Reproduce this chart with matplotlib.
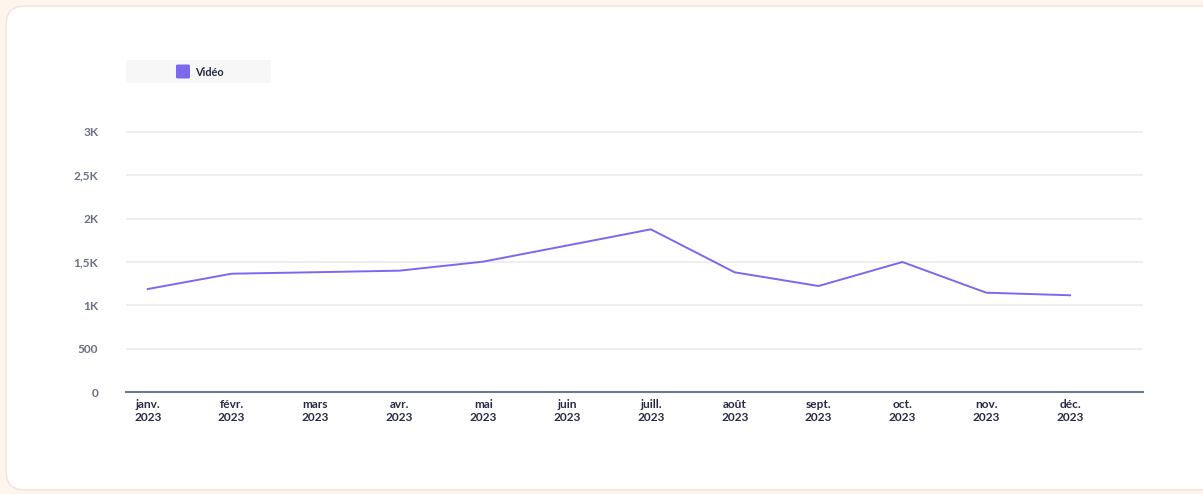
import matplotlib
matplotlib.use("Agg")
import matplotlib.pyplot as plt
from matplotlib.patches import FancyBboxPatch
from matplotlib.ticker import FuncFormatter

# data
months = ["janv.", "févr.", "mars", "avr.", "mai", "juin",
          "juill.", "août", "sept.", "oct.", "nov.", "déc."]
year = "2023"
video = [1188, 1365, 1382, 1400, 1504, 1690, 1877, 1381, 1223, 1500, 1146, 1116]
y_ticks = [0, 500, 1000, 1500, 2000, 2500, 3000]

W, H = 1203, 494
plt.rcParams["font.family"] = ["Lato", "DejaVu Sans"]

fig = plt.figure(figsize=(W / 100, H / 100), dpi=100)
fig.patch.set_facecolor("#fdf5ee")

# white card
card = FancyBboxPatch((6 / W, 4 / H), 1230 / W, 484 / H,
                      boxstyle="round,pad=0,rounding_size=0.016",
                      transform=fig.transFigure, facecolor="white",
                      edgecolor="#f6e1d3", linewidth=1.0,
                      mutation_aspect=W / H, zorder=-2)
fig.patches.append(card)

# legend chip
fig.patches.append(FancyBboxPatch((126 / W, 1 - 83 / H), 145 / W, 23 / H,
                                  boxstyle="round,pad=0,rounding_size=0.002",
                                  transform=fig.transFigure, facecolor="#f7f7f8",
                                  edgecolor="none", zorder=-1))
fig.patches.append(FancyBboxPatch((176 / W, 1 - 78.5 / H), 14 / W, 14 / H,
                                  boxstyle="round,pad=0,rounding_size=0.002",
                                  transform=fig.transFigure, facecolor="#7b68ee",
                                  edgecolor="none", zorder=1))
fig.text(195 / W, 1 - 72 / H, "Vidéo", fontsize=7.8, color="#22263f",
         va="center", ha="left", fontweight="bold")

top_val = 3050
ax = fig.add_axes([126 / W, 1 - 392 / H, (1143 - 126) / W,
                   (392 - (132 - 0.05 * 86.67)) / H])
ax.set_facecolor("none")
ax.set_zorder(2)

x = list(range(len(months)))
ax.plot(x, video, color="#7b68ee", linewidth=1.4, zorder=3)

ax.set_xlim(-0.26, 11.87)
ax.set_ylim(0, top_val)
ax.set_yticks(y_ticks)


def k_fmt(v, pos):
    if v == 0:
        return "0"
    if v < 1000:
        return f"{int(v)}"
    s = f"{v / 1000:g}".replace(".", ",")
    return s + "K"


ax.yaxis.set_major_formatter(FuncFormatter(k_fmt))
ax.grid(axis="y", color="#e9e9ee", linewidth=1.1)
ax.set_axisbelow(True)

ax.set_xticks(x)
ax.set_xticklabels([f"{m}\n{year}" for m in months], linespacing=1.25)

for side in ["top", "right", "left"]:
    ax.spines[side].set_visible(False)
ax.spines["bottom"].set_color("#6e7b8e")
ax.spines["bottom"].set_linewidth(1.5)

ax.tick_params(axis="y", length=0, pad=20, labelsize=8.6, labelcolor="#6b7083")
ax.tick_params(axis="x", length=0, pad=5, labelsize=8.6, labelcolor="#262a45")
for lbl in ax.get_yticklabels() + ax.get_xticklabels():
    lbl.set_fontweight("bold")

fig.savefig("out.png", dpi=100, facecolor=fig.get_facecolor())
